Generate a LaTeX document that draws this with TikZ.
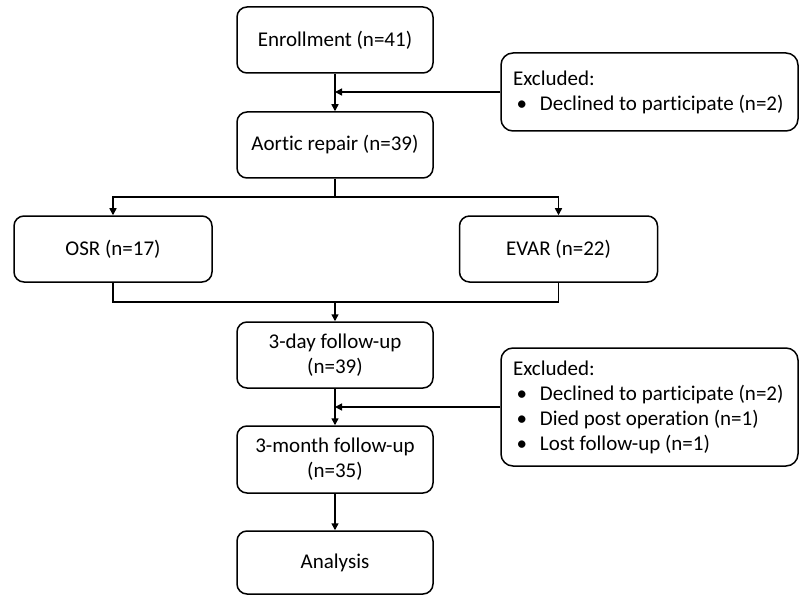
\documentclass[tikz,border=0pt]{standalone}
\usepackage{fontspec}
\setmainfont{Carlito}[Ligatures={NoCommon}]
\usetikzlibrary{arrows.meta}
\begin{document}
\begin{tikzpicture}[x=1pt,y=-1pt,
  box/.style={draw,line width=1.5pt,rounded corners=10pt,minimum width=196pt,minimum height=66pt,align=center,inner sep=0pt,font=\fontsize{21}{25}\selectfont},
  exbox/.style={draw,line width=1.5pt,rounded corners=12pt,minimum width=297pt,text width=273pt,align=flush left,inner sep=0pt,font=\fontsize{21}{25}\selectfont},
  link/.style={line width=1.5pt},
  arr/.style={link,-{Triangle[length=7pt,width=7pt]}}]
\useasboundingbox (0,0) rectangle (800,596);
\node[box] (enr) at (335,40) {Enrollment (n=41)};
\node[box] (aor) at (335,145) {Aortic repair (n=39)};
\node[box,minimum width=198pt] (osr) at (113,249) {OSR (n=17)};
\node[box,minimum width=198pt] (evar) at (558.5,249) {EVAR (n=22)};
\node[box] (day3) at (335,355) {3-day follow-up\\(n=39)};
\node[box,minimum height=67pt] (mon3) at (335,459.5) {3-month follow-up\\(n=35)};
\node[box,minimum height=63pt] (ana) at (335,562.5) {Analysis};
\node[exbox,minimum height=78pt] (exc1) at (649.5,92) {Excluded:\\\makebox[27pt][l]{\,•}Declined to participate (n=2)};
\node[exbox,minimum height=118pt] (exc2) at (649.5,407) {Excluded:\\\makebox[27pt][l]{\,•}Declined to participate (n=2)\\\makebox[27pt][l]{\,•}Died post operation (n=1)\\\makebox[27pt][l]{\,•}Lost follow-up (n=1)};
\coordinate (j1) at (enr.south |- exc1.west);
\coordinate (j2) at (day3.south |- exc2.west);
\coordinate (b) at (335,197);
\coordinate (m) at (335,302);
\draw[arr] (enr.south) -- (aor.north);
\draw[arr] (exc1.west) -- (j1);
\draw[link] (aor.south) -- (b);
\draw[arr] (b) -| (osr.north);
\draw[arr] (b) -| (evar.north);
\draw[link] (osr.south) |- (m) -| (evar.south);
\draw[arr] (m) -- (day3.north);
\draw[arr] (day3.south) -- (mon3.north);
\draw[arr] (exc2.west) -- (j2);
\draw[arr] (mon3.south) -- (ana.north);
\end{tikzpicture}
\end{document}
